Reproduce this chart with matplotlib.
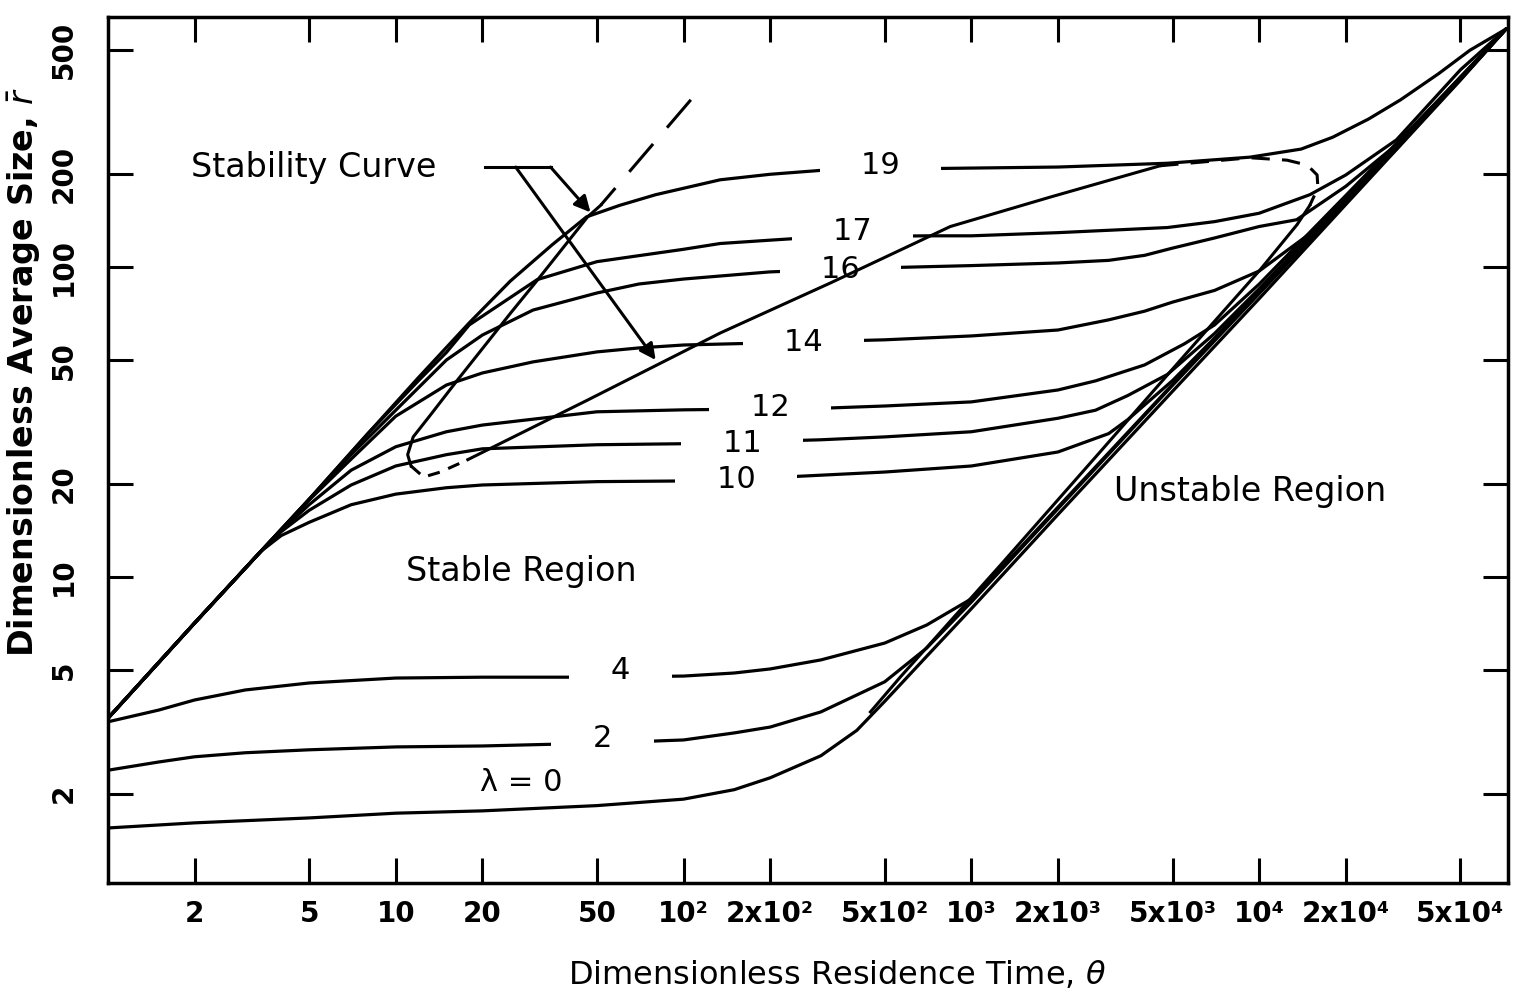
import matplotlib.pyplot as plt

# Dimensionless residence time (theta) and average size (r) along each lambda curve
lam0_theta = [1, 2, 5, 10, 20, 50, 100, 150, 200, 300, 400, 500, 700, 1000, 2000, 5000, 1e4, 2e4, 5e4, 7.2e4]
lam0_r = [1.55, 1.61, 1.67, 1.73, 1.76, 1.83, 1.92, 2.06, 2.25, 2.65, 3.2, 3.97, 5.55, 7.9, 15.9, 39.7, 79, 159, 400, 585]

lam2_theta = [1, 1.5, 2, 3, 5, 10, 20, 50, 100, 150, 200, 300, 500, 700, 1000, 2000, 5000, 1e4, 2e4, 5e4, 7.2e4]
lam2_r = [2.38, 2.53, 2.63, 2.71, 2.77, 2.83, 2.85, 2.91, 2.98, 3.14, 3.28, 3.67, 4.59, 5.9, 8.3, 16.6, 41.5, 82, 162, 402, 585]

lam4_theta = [1, 1.5, 2, 3, 5, 10, 20, 50, 100, 150, 200, 300, 500, 700, 1000, 1500, 2000, 5000, 1e4, 2e4, 5e4, 7.2e4]
lam4_r = [3.41, 3.72, 4.01, 4.32, 4.55, 4.72, 4.75, 4.75, 4.79, 4.90, 5.05, 5.40, 6.12, 7.0, 8.5, 12.6, 16.8, 41.8, 83, 163, 403, 585]

lam10_theta = [1, 2, 3.4, 4, 5, 7, 10, 15, 20, 50, 100, 200, 500, 1000, 2000, 3000, 3500, 5000, 7000, 1e4, 2e4, 5e4, 7.2e4]
lam10_r = [3.5, 7.1, 12.1, 13.6, 15.0, 17.1, 18.5, 19.4, 19.8, 20.3, 20.4, 20.9, 21.8, 22.8, 25.3, 29.0, 32.2, 43, 59, 84, 166, 404, 585]

lam11_theta = [1, 2, 3.4, 4, 5, 7, 10, 15, 20, 50, 100, 300, 500, 1000, 2000, 2700, 3500, 4800, 7000, 1e4, 2e4, 5e4, 7.2e4]
lam11_r = [3.5, 7.1, 12.1, 14.0, 16.4, 19.8, 22.8, 24.8, 25.9, 26.7, 26.9, 27.7, 28.3, 29.4, 32.5, 34.5, 38.5, 45, 61, 85, 167, 405, 585]

lam12_theta = [1, 2, 3.4, 4, 5, 7, 10, 15, 20, 50, 100, 300, 500, 1000, 2000, 2700, 4000, 5500, 7000, 1e4, 2e4, 5e4, 7.2e4]
lam12_r = [3.5, 7.1, 12.1, 14.1, 17.1, 22.1, 26.3, 29.4, 30.9, 34.1, 34.6, 35.0, 35.6, 36.7, 40.1, 42.9, 48.3, 56.5, 65, 88, 170, 408, 585]

lam14_theta = [1, 2, 3.4, 5, 7, 10, 15, 20, 30, 50, 70, 100, 200, 500, 1000, 2000, 3000, 4000, 5000, 7000, 1e4, 1.5e4, 2e4, 3e4, 5e4, 7.2e4]
lam14_r = [3.5, 7.1, 12.1, 17.7, 24.0, 33.0, 41.6, 45.5, 49.4, 53.2, 54.8, 56.0, 56.9, 58.2, 59.9, 62.6, 67.5, 72, 77, 84, 97, 128, 163, 240, 405, 585]

lam16_theta = [1, 2, 3.4, 5, 7, 10, 15, 20, 30, 50, 70, 100, 200, 500, 1000, 2000, 3000, 4000, 5000, 7000, 1e4, 1.35e4, 2e4, 3e4, 5e4, 7.2e4]
lam16_r = [3.5, 7.1, 12.1, 17.8, 24.8, 34.5, 50.1, 60.3, 72.6, 82.4, 88.1, 91.4, 96.4, 99.4, 101, 103, 105, 109, 115, 124, 135, 142, 182, 248, 410, 585]

lam17_theta = [1, 2, 3.4, 5, 8, 12, 15, 18, 31, 50, 100, 134, 200, 300, 700, 1000, 2000, 4800, 7000, 1e4, 1.5e4, 2e4, 3e4, 5e4, 7.2e4]
lam17_r = [3.5, 7.1, 12.1, 17.8, 29, 43, 53, 65, 91, 104, 114, 119, 122, 125, 126, 126, 129, 134, 140, 149, 171, 198, 257, 432, 585]

lam19_theta = [1, 2, 3.4, 5, 8, 12, 18, 25, 35, 46, 60, 80, 134, 200, 324, 845, 2000, 4800, 9300, 1.4e4, 1.8e4, 2.4e4, 3.1e4, 4.2e4, 5.4e4, 7.2e4]
lam19_r = [3.5, 7.1, 12.1, 17.8, 29, 44, 66, 90, 118, 145, 158, 171, 191, 199, 206, 208, 210, 216, 226, 240, 262, 300, 346, 420, 500, 585]

# stability curve, traced as one path around the loop
stab_theta = [106, 51.5, 46.4, 31.1, 25.1, 16.4, 13.2, 11.5, 11.0, 11.3, 12.5, 14.3, 17.8, 46.4, 134, 324,
              845, 1880, 3770, 4530, 9300, 12500, 14700, 15900, 16000, 15000, 13550, 10070, 6920, 5450,
              2800, 1260, 567, 446]
stab_r = [346, 158, 145, 90.8, 71.1, 43.2, 33.3, 28.3, 24.8, 22.8, 21.0, 21.8, 23.9, 37.2, 61.2, 88.8,
          135, 168, 202, 212, 225, 221, 213, 198, 180, 158, 137, 97.8, 66, 51.3,
          25.3, 10.9, 4.76, 3.67]

curves = [
    (lam0_theta, lam0_r), (lam2_theta, lam2_r), (lam4_theta, lam4_r),
    (lam10_theta, lam10_r), (lam11_theta, lam11_r), (lam12_theta, lam12_r),
    (lam14_theta, lam14_r), (lam16_theta, lam16_r), (lam17_theta, lam17_r),
    (lam19_theta, lam19_r),
]

curve_labels = ['2', '4', '10', '11', '12', '14', '16', '17', '19']
label_theta = [52.3, 60.4, 152, 160, 200, 261, 351, 386, 483]
label_r = [3.02, 5.0, 20.6, 27.0, 35.1, 56.9, 97.8, 130, 213]

xticks = [2, 5, 10, 20, 50, 100, 200, 500, 1000, 2000, 5000, 1e4, 2e4, 5e4]
xticklabels = ['2', '5', '10', '20', '50', '10²', '2x10²', '5x10²', '10³',
               '2x10³', '5x10³', '10⁴', '2x10⁴', '5x10⁴']
yticks = [2, 5, 10, 20, 50, 100, 200, 500]
yticklabels = ['2', '5', '10', '20', '50', '100', '200', '500']

fig = plt.figure(figsize=(15.16, 10), dpi=100)
ax = fig.add_axes([0.0712, 0.117, 0.9235, 0.866])
ax.set_xscale('log')
ax.set_yscale('log')
ax.set_xlim(1, 7.32e4)
ax.set_ylim(1.03, 640)

for th, r in curves:
    ax.plot(th, r, color='black', lw=2.3, zorder=2, solid_capstyle='round')

# stability curve: dashed and solid pieces of the same path
lw_s = 2.2
ax.plot(stab_theta[0:2], stab_r[0:2], color='black', lw=lw_s, dashes=(12, 7), zorder=4)
ax.plot(stab_theta[1:10], stab_r[1:10], color='black', lw=lw_s, zorder=4)
ax.plot(stab_theta[9:13], stab_r[9:13], color='black', lw=lw_s, dashes=(4, 3), zorder=4)
ax.plot(stab_theta[12:20], stab_r[12:20], color='black', lw=lw_s, zorder=4)
ax.plot(stab_theta[19:26], stab_r[19:26], color='black', lw=lw_s, dashes=(6, 4), zorder=4)
ax.plot(stab_theta[25:], stab_r[25:], color='black', lw=lw_s, zorder=4)

# curve labels sit in gaps cut out of the lines
for lab, th, r in zip(curve_labels, label_theta, label_r):
    ax.text(th, r, '    ' + lab + '    ', fontsize=22, ha='center', va='center', zorder=3,
            bbox=dict(boxstyle='square,pad=0.08', fc='white', ec='none'))
ax.text(27.2, 2.17, 'λ = 0', fontsize=22, ha='center', va='center', zorder=3)

ax.text(27.2, 10.4, 'Stable Region', fontsize=24, ha='center', va='center')
ax.text(9300, 18.8, 'Unstable Region', fontsize=24, ha='center', va='center')

# stability curve callout
ax.text(1.95, 210, 'Stability Curve', fontsize=24, ha='left', va='center')
ax.plot([20.5, 34.5], [210, 210], color='black', lw=2.2)
arrow = dict(arrowstyle='-|>', color='black', lw=2.2, mutation_scale=24, shrinkA=0, shrinkB=0)
ax.annotate('', xy=(80, 50.1), xytext=(26.1, 210), arrowprops=arrow)
ax.annotate('', xy=(47.5, 150), xytext=(34.5, 210), arrowprops=arrow)

ax.minorticks_off()
ax.set_xticks(xticks, labels=xticklabels, fontsize=20, fontweight='bold')
ax.set_yticks(yticks, labels=yticklabels, fontsize=20, fontweight='bold', rotation=90, va='center')
ax.tick_params(which='major', direction='in', length=18, width=2.2, top=True, right=True)
ax.tick_params(axis='x', pad=12)
ax.tick_params(axis='y', pad=22)
for s in ax.spines.values():
    s.set_linewidth(2.5)

ax.set_xlabel('Dimensionless Residence Time, $\\theta$', fontsize=23)
ax.set_ylabel('Dimensionless Average Size, $\\bar{r}$', fontsize=24, fontweight='bold')
ax.xaxis.set_label_coords(0.521, -0.088)
ax.yaxis.set_label_coords(-0.047, 0.59)

fig.savefig('out.png', dpi=100)
